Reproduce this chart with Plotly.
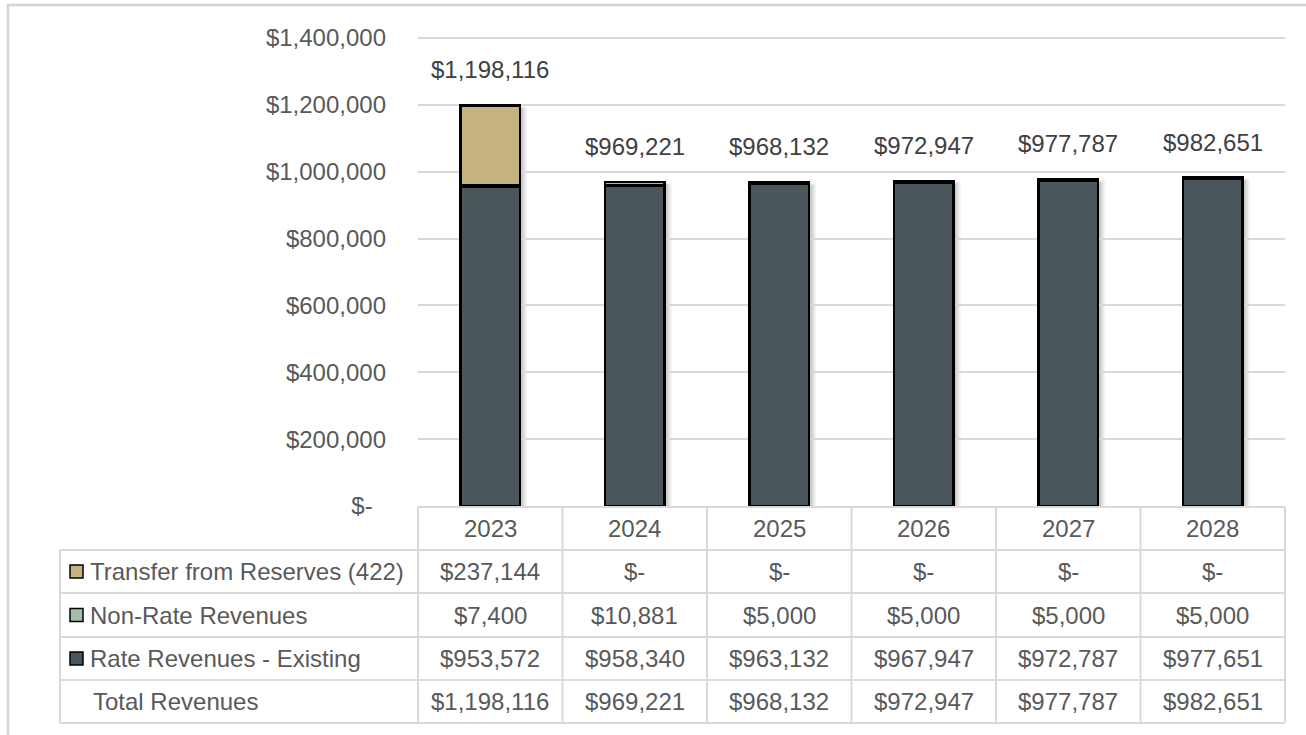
import plotly.graph_objects as go

# ---- data -------------------------------------------------------------
years = ["2023", "2024", "2025", "2026", "2027", "2028"]
rate_existing = [953572, 958340, 963132, 967947, 972787, 977651]
non_rate = [7400, 10881, 5000, 5000, 5000, 5000]
transfer_422 = [237144, 0, 0, 0, 0, 0]
totals = [1198116, 969221, 968132, 972947, 977787, 982651]

series_names = ["Transfer from Reserves (422)", "Non-Rate Revenues", "Rate Revenues - Existing"]
y_tick_vals = [0, 200000, 400000, 600000, 800000, 1000000, 1200000, 1400000]

# ---- styling ----------------------------------------------------------
FONT = "Liberation Sans, Arial, sans-serif"
FS = 24
TXT = "#595959"
GRID = "#d9d9d9"
C_RATE = "#4b555c"
C_NONRATE = "#a8bcae"
C_TRANSFER = "#c4b37e"

W, H = 1306, 735
PL, PR, PT, PB = 418, 1285, 34, 506          # plot-area box in pixels
n = len(years)
col_px = (PR - PL) / n
# top of the value axis, leaving the $1,400,000 gridline at pixel row 38
Y_MAX = 1400000 * (PB - PT) / (PB - 38)


def py(ypix):
    """pixel row -> paper y"""
    return (PB - ypix) / (PB - PT)


def px(xpix):
    """pixel column -> paper x"""
    return (xpix - PL) / (PR - PL)


def fmt(v):
    return "$-" if v == 0 else "${:,.0f}".format(v)


xs = list(range(n))
fig = go.Figure()

bar_line = dict(color="#000000", width=2.5)
fig.add_trace(go.Bar(x=xs, y=rate_existing, name=series_names[2],
                     marker=dict(color=C_RATE, line=bar_line)))
fig.add_trace(go.Bar(x=xs, y=non_rate, name=series_names[1],
                     marker=dict(color=C_NONRATE, line=bar_line)))
fig.add_trace(go.Bar(x=xs, y=transfer_422, name=series_names[0],
                     marker=dict(color=C_TRANSFER, line=bar_line)))

bar_w = 0.415
shapes = []
annotations = []

# soft drop shadow to the right of each stacked bar
for i, t in enumerate(totals):
    for k, (dx, op) in enumerate([(7, 0.05), (5, 0.07), (3, 0.10)]):
        shapes.append(dict(
            type="rect", xref="x", yref="y", layer="below",
            x0=i - bar_w / 2 + 2 / col_px, x1=i + bar_w / 2 + dx / col_px,
            y0=0, y1=t - 3000 * (k + 1),
            line=dict(width=0), fillcolor="rgba(0,0,0,%.2f)" % op))

# total labels above the bars
for i, t in enumerate(totals):
    annotations.append(dict(
        x=i, y=t, xref="x", yref="y", text=fmt(t), showarrow=False,
        yanchor="bottom", yshift=20, font=dict(family=FONT, size=FS, color="#404040")))

# ---- data table under the chart --------------------------------------
row_lines = [507, 550, 593, 637, 680, 723]
tbl_left = 60
line_style = dict(color=GRID, width=2)

# horizontal rules
shapes.append(dict(type="line", xref="paper", yref="paper",
                   x0=px(PL), x1=px(PR), y0=py(row_lines[0]), y1=py(row_lines[0]),
                   line=line_style))
for yl in row_lines[1:]:
    shapes.append(dict(type="line", xref="paper", yref="paper",
                       x0=px(tbl_left), x1=px(PR), y0=py(yl), y1=py(yl), line=line_style))
# vertical rules
shapes.append(dict(type="line", xref="paper", yref="paper",
                   x0=px(tbl_left), x1=px(tbl_left), y0=py(row_lines[1]), y1=py(row_lines[-1]),
                   line=line_style))
for j in range(n + 1):
    xv = px(PL + j * col_px)
    shapes.append(dict(type="line", xref="paper", yref="paper",
                       x0=xv, x1=xv, y0=py(row_lines[0]), y1=py(row_lines[-1]),
                       line=line_style))

cell_font = dict(family=FONT, size=FS, color=TXT)
rows = [
    (series_names[0], transfer_422, C_TRANSFER),
    (series_names[1], non_rate, C_NONRATE),
    (series_names[2], rate_existing, C_RATE),
    ("Total Revenues", totals, None),
]

# header: years
yc = (row_lines[0] + row_lines[1]) / 2
for i, yr in enumerate(years):
    annotations.append(dict(x=i, y=py(yc), xref="x", yref="paper", text=yr,
                            showarrow=False, yanchor="middle", font=cell_font))

for r, (label, vals, color) in enumerate(rows):
    yc = (row_lines[r + 1] + row_lines[r + 2]) / 2
    if color is not None:
        shapes.append(dict(type="rect", xref="paper", yref="paper",
                           x0=px(70), x1=px(83), y0=py(yc - 6.5), y1=py(yc + 6.5),
                           fillcolor=color, line=dict(color="#000000", width=1.5)))
        lx = 88
    else:
        lx = 91
    annotations.append(dict(x=px(lx), y=py(yc), xref="paper", yref="paper", text=label,
                            showarrow=False, xanchor="left", yanchor="middle",
                            font=cell_font))
    for i, v in enumerate(vals):
        annotations.append(dict(x=i, y=py(yc), xref="x", yref="paper", text=fmt(v),
                                showarrow=False, xanchor="center", yanchor="middle",
                                font=cell_font))

# outer chart frame
shapes.append(dict(type="rect", xref="paper", yref="paper",
                   x0=px(8), x1=px(W + 10), y0=py(5), y1=py(H + 10),
                   line=dict(color="#d4d4d4", width=2.5), layer="below"))

tick_text = ["$-" + "\u00a0" * 2] + ["${:,.0f}".format(v) for v in y_tick_vals[1:]]

fig.update_layout(
    width=W, height=H,
    margin=dict(l=PL, r=W - PR, t=PT, b=H - PB, autoexpand=False),
    paper_bgcolor="white", plot_bgcolor="white",
    barmode="stack", bargap=1 - bar_w,
    showlegend=False,
    font=dict(family=FONT, size=FS, color=TXT),
    xaxis=dict(range=[-0.5, n - 0.5], showticklabels=False, showgrid=False,
               zeroline=False, showline=False, fixedrange=True),
    yaxis=dict(range=[0, Y_MAX], tickvals=y_tick_vals, ticktext=tick_text,
               showgrid=True, gridcolor=GRID, gridwidth=2, zeroline=False,
               showline=False, ticks="", ticklabelstandoff=31,
               tickfont=dict(family=FONT, size=FS, color=TXT)),
    shapes=shapes,
    annotations=annotations,
)

fig.write_html("out.html")
